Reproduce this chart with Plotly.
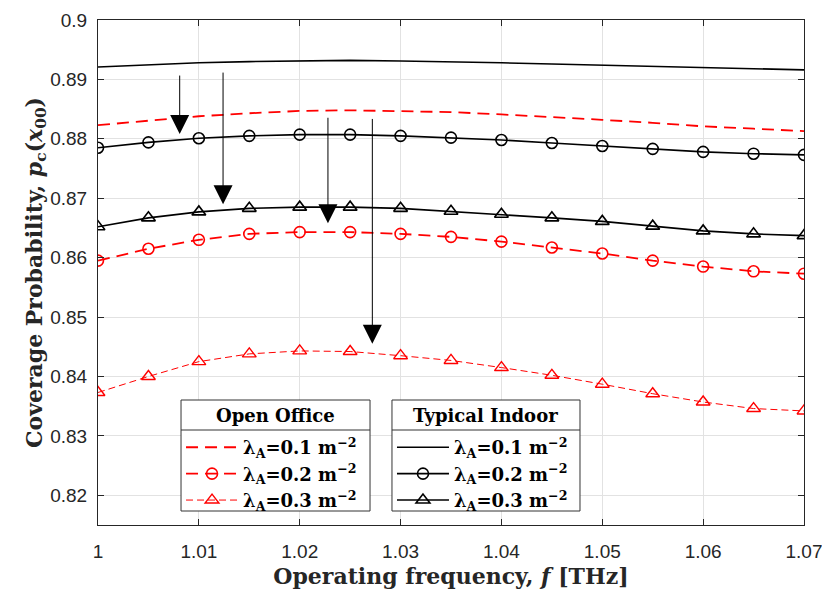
import plotly.graph_objects as go

# operating frequency [THz]
freq = [1.000, 1.005, 1.010, 1.015, 1.020, 1.025, 1.030, 1.035,
        1.040, 1.045, 1.050, 1.055, 1.060, 1.065, 1.070]

# Open Office
oo_01 = [0.8823, 0.8830, 0.8838, 0.8843, 0.8847, 0.8848, 0.8847, 0.8845,
         0.8841, 0.8837, 0.8832, 0.8827, 0.8821, 0.8817, 0.8813]
oo_02 = [0.8595, 0.8615, 0.8630, 0.8640, 0.8643, 0.8643, 0.8640, 0.8635,
         0.8627, 0.8617, 0.8607, 0.8595, 0.8585, 0.8577, 0.8573]
oo_03 = [0.8373, 0.8400, 0.8425, 0.8438, 0.8443, 0.8442, 0.8435, 0.8427,
         0.8415, 0.8402, 0.8387, 0.8371, 0.8357, 0.8346, 0.8342]

# Typical Indoor
ti_01 = [0.8921, 0.8925, 0.8928, 0.8930, 0.8931, 0.8932, 0.8931, 0.8930,
         0.8928, 0.8926, 0.8924, 0.8922, 0.8919, 0.8917, 0.8916]
ti_02 = [0.8785, 0.8794, 0.8801, 0.8805, 0.8807, 0.8807, 0.8805, 0.8802,
         0.8798, 0.8793, 0.8788, 0.8783, 0.8778, 0.8775, 0.8773]
ti_03 = [0.8652, 0.8667, 0.8677, 0.8683, 0.8685, 0.8685, 0.8683, 0.8678,
         0.8673, 0.8667, 0.8661, 0.8653, 0.8645, 0.8640, 0.8637]

# arrows: (x, y_start, y_tip)
arrows = [(1.0081, 0.8909, 0.8808),
          (1.0124, 0.8914, 0.8690),
          (1.0228, 0.8838, 0.8658),
          (1.0272, 0.8836, 0.8455)]

lam = ["0.1", "0.2", "0.3"]

serif = "DejaVu Serif"
sans = "Liberation Sans"
red = "#ff0000"
dark = "#262626"

def lbl(v):
    return "<b>\u03bb<sub>A</sub>=" + v + " m<sup>\u22122</sup></b>"

fig = go.Figure()

fig.add_trace(go.Scatter(x=freq, y=oo_01, mode="lines", name=lbl(lam[0]),
                         line=dict(color=red, width=1.8, dash="12px,7px"),
                         legend="legend"))
fig.add_trace(go.Scatter(x=freq, y=oo_02, mode="lines+markers", name=lbl(lam[1]),
                         line=dict(color=red, width=1.8, dash="12px,7px"),
                         marker=dict(symbol="circle-open", size=11, color=red,
                                     line=dict(width=1.6)),
                         legend="legend"))
fig.add_trace(go.Scatter(x=freq, y=oo_03, mode="lines+markers", name=lbl(lam[2]),
                         line=dict(color=red, width=1, dash="7px,4px"),
                         marker=dict(symbol="triangle-up-open", size=12, color=red,
                                     line=dict(width=1.4)),
                         legend="legend"))

fig.add_trace(go.Scatter(x=freq, y=ti_01, mode="lines", name=lbl(lam[0]),
                         line=dict(color="black", width=1.6),
                         legend="legend2"))
fig.add_trace(go.Scatter(x=freq, y=ti_02, mode="lines+markers", name=lbl(lam[1]),
                         line=dict(color="black", width=1.6),
                         marker=dict(symbol="circle-open", size=11, color="black",
                                     line=dict(width=1.6)),
                         legend="legend2"))
fig.add_trace(go.Scatter(x=freq, y=ti_03, mode="lines+markers", name=lbl(lam[2]),
                         line=dict(color="black", width=1.6),
                         marker=dict(symbol="triangle-up-open", size=12, color="black",
                                     line=dict(width=1.6)),
                         legend="legend2"))

for xa, y0, y1 in arrows:
    fig.add_annotation(x=xa, y=y1, ax=xa, ay=y0, xref="x", yref="y",
                       axref="x", ayref="y", text="", showarrow=True,
                       arrowhead=2, arrowsize=3.8, arrowwidth=1,
                       arrowcolor="black")

axis_common = dict(showgrid=True, gridcolor="#e2e2e2", gridwidth=1,
                   showline=True, linecolor=dark, linewidth=1,
                   mirror="ticks", ticks="inside", ticklen=6,
                   tickcolor=dark, zeroline=False, automargin=False,
                   tickfont=dict(family=sans, size=19, color=dark))

fig.update_xaxes(range=[1, 1.07], dtick=0.01, tickformat="~g",
                 ticklabelstandoff=9,
                 title=dict(text="<b>Operating frequency, <i>f</i> [THz]</b>",
                            font=dict(family=serif, size=22, color=dark),
                            standoff=7),
                 **axis_common)
fig.update_yaxes(range=[0.815, 0.9], dtick=0.01, tickformat="~g",
                 ticklabelstandoff=6,
                 title=dict(text="<b>Coverage Probability, <i>p</i><sub>c</sub>(<i>x</i><sub>00</sub>)</b>",
                            font=dict(family=serif, size=22, color=dark),
                            standoff=0),
                 **axis_common)

# legend boxes (paper coords)
boxes = [(0.1176, 0.3853, "<b>Open Office</b>"),
         (0.4164, 0.6827, "<b>Typical Indoor</b>")]
box_top, box_bot, sep_y, title_y = 0.2475, 0.0277, 0.1881, 0.2178

for x0, x1, ttl in boxes:
    fig.add_shape(type="rect", xref="paper", yref="paper", layer="above",
                  x0=x0, x1=x1, y0=box_bot, y1=box_top, fillcolor="white",
                  line=dict(color="#333333", width=1))
    fig.add_shape(type="line", xref="paper", yref="paper", layer="above",
                  x0=x0, x1=x1, y0=sep_y, y1=sep_y,
                  line=dict(color="#333333", width=1))
    fig.add_annotation(x=(x0 + x1) / 2, y=title_y, xref="paper", yref="paper",
                       xanchor="center", yanchor="middle",
                       text=ttl, showarrow=False,
                       font=dict(family=serif, size=18, color="black"))

leg_common = dict(bgcolor="rgba(0,0,0,0)", borderwidth=0,
                  font=dict(family=serif, size=18, color="black"),
                  itemwidth=52, yanchor="top", xanchor="left",
                  tracegroupgap=0)

# page body has an 8px margin, so the figure is 8px smaller than the window
fig.update_layout(
    width=822, height=592,
    margin=dict(l=90, r=26, t=12, b=75),
    plot_bgcolor="white", paper_bgcolor="white",
    legend=dict(x=boxes[0][0], y=0.19, **leg_common),
    legend2=dict(x=boxes[1][0], y=0.19, **leg_common),
)

fig.write_html("out.html")
